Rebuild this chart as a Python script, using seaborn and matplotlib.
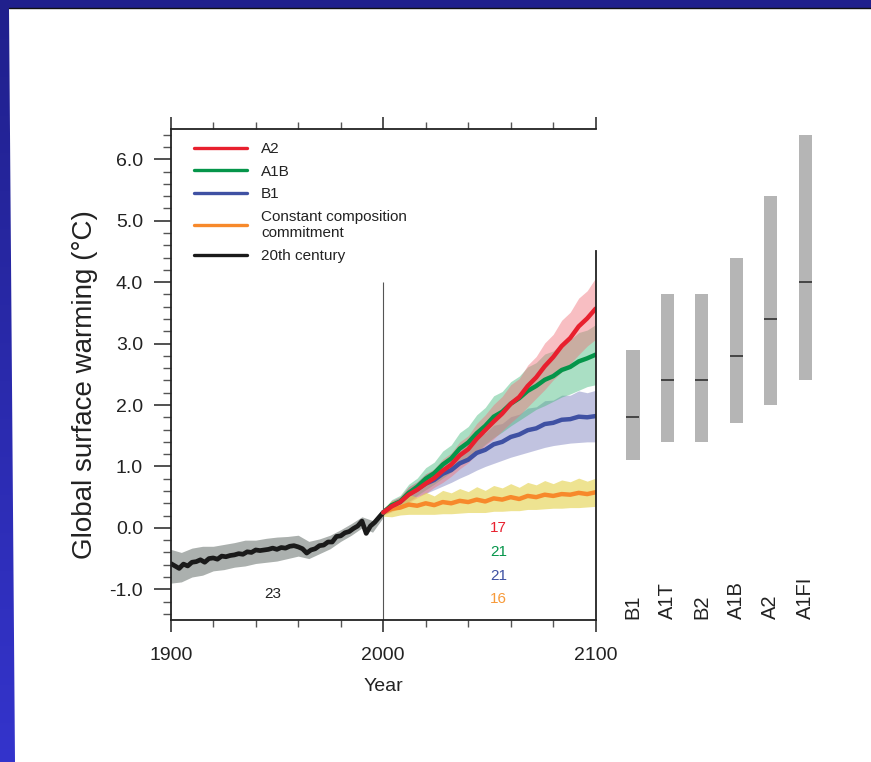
import numpy as np
import pandas as pd
import matplotlib
matplotlib.use("Agg")
import matplotlib.pyplot as plt
import seaborn as sns
from matplotlib.ticker import MultipleLocator, FormatStrFormatter
from matplotlib.patches import Polygon
from matplotlib.lines import Line2D
from matplotlib.colors import LinearSegmentedColormap

# ---------------- data ----------------
hist_years = np.arange(1900, 2001, 2)
hist_temp = [-0.58, -0.62, -0.66, -0.59, -0.62, -0.56, -0.55, -0.52, -0.56, -0.50,
             -0.49, -0.51, -0.46, -0.47, -0.45, -0.44, -0.42, -0.43, -0.39, -0.40,
             -0.36, -0.37, -0.36, -0.35, -0.33, -0.35, -0.32, -0.33, -0.30, -0.29,
             -0.31, -0.34, -0.41, -0.36, -0.34, -0.29, -0.28, -0.23, -0.23, -0.14,
             -0.13, -0.08, -0.06, -0.01, 0.03, 0.11, -0.09, 0.03, 0.09, 0.17, 0.25]
band_years = np.arange(1900, 2001, 5)
hist_upper = [-0.35, -0.40, -0.33, -0.30, -0.30, -0.27, -0.24, -0.20, -0.20, -0.17, -0.15,
              -0.14, -0.12, -0.22, -0.18, -0.12, -0.03, 0.07, 0.18, 0.12, 0.32]
hist_lower = [-0.90, -0.88, -0.80, -0.77, -0.70, -0.68, -0.64, -0.62, -0.58, -0.56, -0.54,
              -0.50, -0.46, -0.50, -0.42, -0.34, -0.22, -0.12, 0.00, -0.07, 0.17]

fut_years = np.arange(2000, 2101, 4)
a2 = [0.25, 0.35, 0.42, 0.54, 0.62, 0.72, 0.81, 0.93, 1.03, 1.18, 1.28, 1.45, 1.59,
      1.73, 1.86, 2.02, 2.13, 2.31, 2.45, 2.63, 2.78, 2.96, 3.09, 3.28, 3.41, 3.57]
a1b = [0.25, 0.37, 0.43, 0.57, 0.67, 0.80, 0.89, 1.03, 1.13, 1.29, 1.39, 1.54, 1.66,
       1.81, 1.89, 2.02, 2.11, 2.23, 2.31, 2.41, 2.47, 2.57, 2.62, 2.71, 2.76, 2.82]
b1 = [0.25, 0.36, 0.42, 0.55, 0.63, 0.72, 0.78, 0.88, 0.94, 1.05, 1.11, 1.22, 1.27,
      1.36, 1.40, 1.48, 1.52, 1.59, 1.62, 1.69, 1.71, 1.76, 1.77, 1.81, 1.80, 1.82]
commit = [0.25, 0.31, 0.33, 0.38, 0.36, 0.40, 0.37, 0.42, 0.40, 0.44, 0.42, 0.46, 0.43,
          0.48, 0.46, 0.50, 0.47, 0.52, 0.50, 0.54, 0.52, 0.55, 0.54, 0.57, 0.55, 0.58]
a2_sd = [0.04, 0.09, 0.09, 0.13, 0.13, 0.16, 0.15, 0.19, 0.19, 0.22, 0.22, 0.25, 0.25,
         0.28, 0.28, 0.31, 0.30, 0.34, 0.34, 0.38, 0.37, 0.42, 0.42, 0.46, 0.45, 0.50]
a1b_sd = [0.04, 0.09, 0.10, 0.14, 0.14, 0.18, 0.18, 0.22, 0.22, 0.26, 0.26, 0.30, 0.30,
          0.34, 0.33, 0.36, 0.36, 0.39, 0.38, 0.42, 0.41, 0.44, 0.44, 0.47, 0.46, 0.49]
b1_sd = [0.04, 0.08, 0.08, 0.12, 0.12, 0.16, 0.16, 0.20, 0.20, 0.24, 0.24, 0.28, 0.27,
         0.31, 0.30, 0.33, 0.33, 0.36, 0.35, 0.38, 0.37, 0.40, 0.39, 0.42, 0.40, 0.42]
commit_sd = [0.06, 0.13, 0.12, 0.16, 0.14, 0.18, 0.15, 0.19, 0.17, 0.20, 0.17, 0.21, 0.18,
             0.21, 0.19, 0.22, 0.19, 0.22, 0.20, 0.23, 0.20, 0.23, 0.21, 0.24, 0.21, 0.23]

model_counts = ["17", "21", "21", "16"]
hist_count = "23"

scenarios = ["B1", "A1T", "B2", "A1B", "A2", "A1FI"]
range_low = [1.1, 1.4, 1.4, 1.7, 2.0, 2.4]
range_high = [2.9, 3.8, 3.8, 4.4, 5.4, 6.4]
range_best = [1.8, 2.4, 2.4, 2.8, 3.4, 4.0]

legend_labels = ["A2", "A1B", "B1", "Constant composition\ncommitment", "20th century"]

# ---------------- style ----------------
sns.set_theme(style="white")
plt.rcParams['font.family'] = ['Liberation Sans', 'DejaVu Sans']
plt.rcParams['axes.unicode_minus'] = False

C_A2 = "#e8202e"
C_A1B = "#05954a"
C_B1 = "#3f51a3"
C_COM = "#f7892b"
C_HIST = "#1a1a1a"
TXT = "#222222"

W, H = 871, 762
fig = plt.figure(figsize=(W / 100, H / 100), dpi=100)

# slide background
bg = fig.add_axes([0, 0, 1, 1], zorder=-10)
grad = np.linspace(0, 1, 256).reshape(-1, 1)
cmap = LinearSegmentedColormap.from_list('bg', ['#3434cc', '#20208c'])
bg.imshow(grad, aspect='auto', cmap=cmap, extent=[0, 1, 0, 1], origin='lower')
bg.add_patch(Polygon([[9 / W, 1 - 8 / H], [1, 1 - 8 / H], [1, 0], [15 / W, 0]],
                     closed=True, fc='white', ec='none'))
bg.axhline(1 - 7.5 / H, xmin=9 / W, xmax=1, color='#111111', lw=1)
bg.set_xlim(0, 1)
bg.set_ylim(0, 1)
bg.axis('off')

# main axes
x0, x1 = 170.7, 595.7
ytop, ybot = 128.6, 620.0
ax = fig.add_axes([x0 / W, 1 - ybot / H, (x1 - x0) / W, (ybot - ytop) / H])
ax.set_facecolor('white')

# bands
ax.fill_between(band_years, hist_lower, hist_upper, color='#a2a8a5', alpha=0.9, lw=0)
fy = fut_years
for vals, sd, col, al in [(b1, b1_sd, '#8f93c8', 0.55), (a1b, a1b_sd, '#44b87c', 0.45),
                          (a2, a2_sd, '#f07078', 0.45), (commit, commit_sd, '#e6d456', 0.65)]:
    v = np.array(vals)
    s = np.array(sd)
    ax.fill_between(fy, v - s, v + s, color=col, alpha=al, lw=0)

ax.vlines(2000, -1.5, 4.0, color='#555555', lw=0.8, zorder=1)

hist_df = pd.DataFrame({'year': hist_years, 'temp': hist_temp})
sns.lineplot(data=hist_df, x='year', y='temp', color=C_HIST, lw=3.4, ax=ax, estimator=None)
fut_df = pd.DataFrame({'year': fy, 'A2': a2, 'A1B': a1b, 'B1': b1, 'commit': commit})
for col, c in [('commit', C_COM), ('B1', C_B1), ('A1B', C_A1B), ('A2', C_A2)]:
    sns.lineplot(data=fut_df, x='year', y=col, color=c, lw=3.2, ax=ax, estimator=None)

ax.set_xlim(1900, 2100)
ax.set_ylim(-1.5, 6.5)
ax.set_xticks([1900, 2000, 2100])
ax.xaxis.set_minor_locator(MultipleLocator(20))
ax.set_yticks(np.arange(-1, 7))
ax.yaxis.set_minor_locator(MultipleLocator(0.2))
ax.yaxis.set_major_formatter(FormatStrFormatter('%.1f'))

for s in ['left', 'top', 'bottom']:
    ax.spines[s].set_color('#222222')
    ax.spines[s].set_linewidth(1.3)
ax.spines['right'].set_visible(False)

ax.tick_params(axis='y', which='major', direction='out', length=12, width=1.2,
               left=True, right=False, labelsize=14, pad=8, colors='#333333', labelcolor=TXT)
ax.tick_params(axis='y', which='minor', direction='out', length=6, width=1.0,
               left=True, right=False, colors='#555555')
ax.tick_params(axis='x', which='major', direction='out', length=8.5, width=1.2,
               top=True, bottom=True, labelsize=14, pad=11, colors='#333333', labelcolor=TXT)
ax.tick_params(axis='x', which='minor', direction='out', length=5, width=1.0,
               top=True, bottom=True, colors='#555555')

ax.set_xlabel("Year", fontsize=14, color=TXT, labelpad=10)
ax.set_ylabel("Global surface warming (°C)", fontsize=20, color=TXT)
ax.yaxis.set_label_coords(-0.202, 0.48)
ax.yaxis.label.set_verticalalignment('center')

# model counts
ax.text(1947.8, -1.08, hist_count, fontsize=11, color=TXT, ha='center', va='center')
for txt, yy, c in zip(model_counts, [0.0, -0.40, -0.79, -1.15],
                      [C_A2, C_A1B, C_B1, "#f79a3a"]):
    ax.text(2054.2, yy, txt, fontsize=11, color=c, ha='center', va='center')

# legend
handles = [Line2D([], [], color=c, lw=2.4) for c in [C_A2, C_A1B, C_B1, C_COM, C_HIST]]
leg = ax.legend(handles, legend_labels, loc='upper left', bbox_to_anchor=(0.04, 0.985),
                frameon=False, fontsize=11, handlelength=3.5, handletextpad=0.9,
                labelspacing=0.56, borderaxespad=0, borderpad=0.4)
for t in leg.get_texts():
    t.set_color(TXT)
    t.set_linespacing(1.25)

# right panel with likely ranges
axr = fig.add_axes([x1 / W, 1 - ybot / H, 244 / W, (ybot - ytop) / H])
axr.patch.set_alpha(0)
xs = np.arange(len(scenarios))
lo = np.array(range_low)
hi = np.array(range_high)
axr.bar(xs, hi - lo, bottom=lo, width=0.385, color='#b5b5b5', lw=0)
axr.hlines(range_best, xs - 0.19, xs + 0.19, color='#444444', lw=1.4)
for i, name in enumerate(scenarios):
    axr.text(i, -1.48, name, rotation=90, ha='center', va='bottom', fontsize=14.5, color=TXT)
axr.set_xlim(-1.08, 6.0)
axr.set_ylim(-1.5, 6.5)
for s in ['right', 'top', 'bottom']:
    axr.spines[s].set_visible(False)
axr.spines['left'].set_bounds(-1.5, 4.5)
axr.spines['left'].set_color('#222222')
axr.spines['left'].set_linewidth(1.3)
axr.set_xticks([])
axr.set_yticks(np.arange(-1, 7))
axr.yaxis.set_minor_locator(MultipleLocator(0.2))
axr.tick_params(axis='y', which='major', direction='in', length=13, width=1.2,
                labelleft=False, colors='#333333')
axr.tick_params(axis='y', which='minor', direction='in', length=6.5, width=1.0,
                labelleft=False, colors='#555555')

fig.savefig("out.png", dpi=100)
